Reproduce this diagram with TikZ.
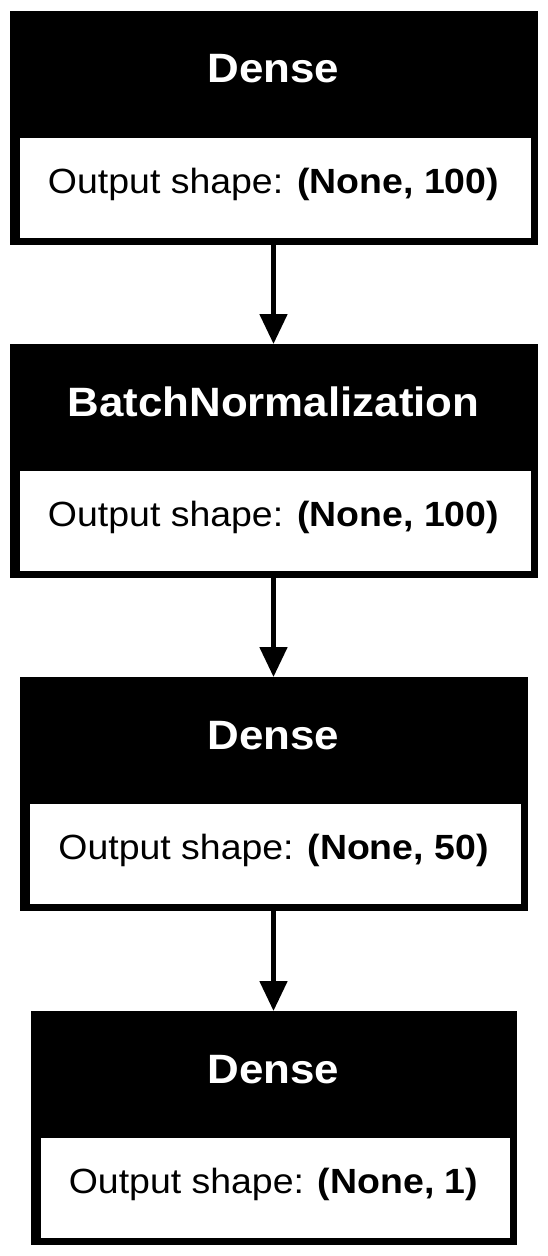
\documentclass[tikz,border=0pt]{standalone}
\usepackage{fontspec}
\usepackage{graphicx}
\setmainfont{Liberation Sans}
\usetikzlibrary{arrows.meta}
\newcommand{\ttl}[1]{\scalebox{1.07}[1]{\fontsize{41}{46}\selectfont\bfseries #1}}
\newcommand{\bdy}[1]{\scalebox{1.07}[1]{\fontsize{35}{40}\selectfont Output shape: \textbf{#1}}}
\begin{document}
\begin{tikzpicture}[x=1pt,y=-1pt,
  outerbox/.style={draw=none,fill=black,inner sep=0,outer sep=0,minimum height=234pt},
  innerbox/.style={draw=none,fill=white,inner sep=0,outer sep=0,minimum height=100pt},
  titletext/.style={text=white,inner sep=0,anchor=base},
  bodytext/.style={text=black,inner sep=0,anchor=base},
  arr/.style={line width=5pt,-{Triangle[length=30pt,width=27pt]}}]
\useasboundingbox[fill=white] (0,0) rectangle (547,1256);
% box 1
\node[outerbox,minimum width=528pt] (b1) at (273.5,127.5) {};
\node[innerbox,minimum width=511pt] (i1) at (275,187.5) {};
\node[titletext] (t1) at (273.5,82.5) {\ttl{Dense}};
\node[bodytext] (s1) at (273.5,193) {\bdy{(None, 100)}};
% box 2
\node[outerbox,minimum width=528pt] (b2) at (273.5,461) {};
\node[innerbox,minimum width=511pt] (i2) at (275,521) {};
\node[titletext] (t2) at (273.5,416) {\ttl{BatchNormalization}};
\node[bodytext] (s2) at (273.5,526.5) {\bdy{(None, 100)}};
% box 3
\node[outerbox,minimum width=508pt] (b3) at (273.5,794) {};
\node[innerbox,minimum width=491pt] (i3) at (275,854) {};
\node[titletext] (t3) at (273.5,749) {\ttl{Dense}};
\node[bodytext] (s3) at (273.5,859.5) {\bdy{(None, 50)}};
% box 4
\node[outerbox,minimum width=486pt] (b4) at (273.5,1128) {};
\node[innerbox,minimum width=469pt] (i4) at (275,1188) {};
\node[titletext] (t4) at (273.5,1083) {\ttl{Dense}};
\node[bodytext] (s4) at (273.5,1193.5) {\bdy{(None, 1)}};
% arrows
\draw[arr] (b1.south) -- (b2.north);
\draw[arr] (b2.south) -- (b3.north);
\draw[arr] (b3.south) -- (b4.north);
\end{tikzpicture}
\end{document}
